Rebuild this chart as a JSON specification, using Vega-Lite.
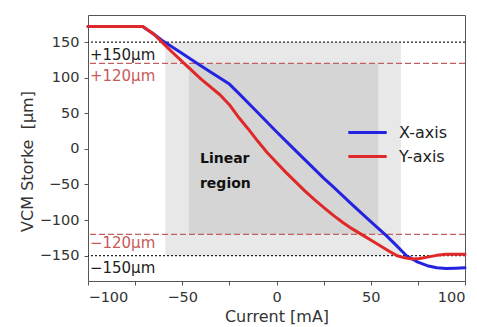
{
  "$schema": "https://vega.github.io/schema/vega-lite/v6.json",
  "width": 377,
  "height": 266,
  "autosize": "none",
  "padding": {"left": 88, "top": 15, "right": 12, "bottom": 46},
  "background": "white",
  "config": {
    "font": "DejaVu Sans",
    "view": {"stroke": "#555", "strokeWidth": 1},
    "axis": {
      "grid": false,
      "domain": false,
      "tickColor": "#555",
      "tickSize": 4,
      "labelFontSize": 14.5,
      "labelColor": "#333",
      "titleFontSize": 16,
      "titleFontWeight": "normal",
      "titleColor": "#333"
    },
    "axisX": {"labelPadding": 5, "titlePadding": 5},
    "axisY": {"labelPadding": 5, "titlePadding": 4, "titleY": 146}
  },
  "datasets": {
    "outerRegion": [{"x1": -59, "x2": 66, "y1": -150, "y2": 150}],
    "linearRegion": [{"x1": -46.5, "x2": 54, "y1": -120, "y2": 120}],
    "limits150": [{"y": 150}, {"y": -150}],
    "limits120": [{"y": 120}, {"y": -120}],
    "labels150": [
      {"x": -99, "y": 132, "label": "+150μm"},
      {"x": -99, "y": -167.5, "label": "−150μm"}
    ],
    "labels120": [
      {"x": -99, "y": 102.5, "label": "+120μm"},
      {"x": -99, "y": -132, "label": "−120μm"}
    ],
    "regionText": [
      {"x": -40.6, "y": -19.5, "label": "Linear"},
      {"x": -40.6, "y": -54.5, "label": "region"}
    ],
    "stroke": [
      {"axis": "X-axis", "current": -100, "stroke": 172},
      {"axis": "X-axis", "current": -90, "stroke": 172},
      {"axis": "X-axis", "current": -80, "stroke": 172},
      {"axis": "X-axis", "current": -71, "stroke": 172},
      {"axis": "X-axis", "current": -65, "stroke": 161},
      {"axis": "X-axis", "current": -60, "stroke": 151},
      {"axis": "X-axis", "current": -50, "stroke": 134},
      {"axis": "X-axis", "current": -42, "stroke": 120},
      {"axis": "X-axis", "current": -35, "stroke": 108},
      {"axis": "X-axis", "current": -25, "stroke": 91},
      {"axis": "X-axis", "current": -20, "stroke": 78},
      {"axis": "X-axis", "current": -10, "stroke": 51},
      {"axis": "X-axis", "current": 0, "stroke": 24},
      {"axis": "X-axis", "current": 10, "stroke": -2},
      {"axis": "X-axis", "current": 20, "stroke": -28},
      {"axis": "X-axis", "current": 25, "stroke": -41},
      {"axis": "X-axis", "current": 30, "stroke": -53},
      {"axis": "X-axis", "current": 40, "stroke": -78},
      {"axis": "X-axis", "current": 50, "stroke": -102},
      {"axis": "X-axis", "current": 58, "stroke": -121},
      {"axis": "X-axis", "current": 63, "stroke": -134},
      {"axis": "X-axis", "current": 69, "stroke": -150},
      {"axis": "X-axis", "current": 75, "stroke": -159},
      {"axis": "X-axis", "current": 80, "stroke": -164},
      {"axis": "X-axis", "current": 85, "stroke": -167},
      {"axis": "X-axis", "current": 90, "stroke": -168},
      {"axis": "X-axis", "current": 95, "stroke": -167.5},
      {"axis": "X-axis", "current": 100, "stroke": -167},
      {"axis": "Y-axis", "current": -100, "stroke": 172},
      {"axis": "Y-axis", "current": -90, "stroke": 172},
      {"axis": "Y-axis", "current": -80, "stroke": 172},
      {"axis": "Y-axis", "current": -71, "stroke": 172},
      {"axis": "Y-axis", "current": -65, "stroke": 161},
      {"axis": "Y-axis", "current": -62, "stroke": 153},
      {"axis": "Y-axis", "current": -55, "stroke": 135},
      {"axis": "Y-axis", "current": -49, "stroke": 120},
      {"axis": "Y-axis", "current": -40, "stroke": 98},
      {"axis": "Y-axis", "current": -30, "stroke": 76},
      {"axis": "Y-axis", "current": -25, "stroke": 62},
      {"axis": "Y-axis", "current": -20, "stroke": 44},
      {"axis": "Y-axis", "current": -15, "stroke": 28},
      {"axis": "Y-axis", "current": -10, "stroke": 11},
      {"axis": "Y-axis", "current": -5, "stroke": -5},
      {"axis": "Y-axis", "current": 0, "stroke": -19},
      {"axis": "Y-axis", "current": 5, "stroke": -33},
      {"axis": "Y-axis", "current": 10, "stroke": -46},
      {"axis": "Y-axis", "current": 15, "stroke": -59},
      {"axis": "Y-axis", "current": 20, "stroke": -71},
      {"axis": "Y-axis", "current": 25, "stroke": -82},
      {"axis": "Y-axis", "current": 30, "stroke": -93},
      {"axis": "Y-axis", "current": 35, "stroke": -103},
      {"axis": "Y-axis", "current": 40, "stroke": -112},
      {"axis": "Y-axis", "current": 45, "stroke": -120},
      {"axis": "Y-axis", "current": 50, "stroke": -128},
      {"axis": "Y-axis", "current": 55, "stroke": -136},
      {"axis": "Y-axis", "current": 60, "stroke": -144},
      {"axis": "Y-axis", "current": 64, "stroke": -150},
      {"axis": "Y-axis", "current": 68, "stroke": -153},
      {"axis": "Y-axis", "current": 72, "stroke": -154.5},
      {"axis": "Y-axis", "current": 76, "stroke": -154},
      {"axis": "Y-axis", "current": 80, "stroke": -152},
      {"axis": "Y-axis", "current": 85, "stroke": -149.5},
      {"axis": "Y-axis", "current": 90, "stroke": -148},
      {"axis": "Y-axis", "current": 95, "stroke": -148},
      {"axis": "Y-axis", "current": 100, "stroke": -148}
    ]
  },
  "layer": [
    {
      "data": {"name": "outerRegion"},
      "mark": {"type": "rect", "color": "#e8e8e8"},
      "encoding": {
        "x": {"field": "x1", "type": "quantitative", "title": "Current [mA]",
              "scale": {"domain": [-100, 100], "nice": false, "zero": false},
              "axis": {"values": [-100, -75, -50, -25, 0, 25, 50, 75, 100]}},
        "x2": {"field": "x2"},
        "y": {"field": "y1", "type": "quantitative", "title": "VCM Storke\u00a0 [μm]",
              "scale": {"domain": [-185.5, 188], "nice": false, "zero": false},
              "axis": {"values": [-150, -100, -50, 0, 50, 100, 150]}},
        "y2": {"field": "y2"}
      }
    },
    {
      "data": {"name": "linearRegion"},
      "mark": {"type": "rect", "color": "#d5d5d5"},
      "encoding": {
        "x": {"field": "x1", "type": "quantitative", "title": "Current [mA]"},
        "x2": {"field": "x2"},
        "y": {"field": "y1", "type": "quantitative", "title": "VCM Storke\u00a0 [μm]"},
        "y2": {"field": "y2"}
      }
    },
    {
      "data": {"name": "limits150"},
      "mark": {"type": "rule", "color": "#222", "strokeWidth": 1.2, "strokeDash": [2, 2]},
      "encoding": {
        "y": {"field": "y", "type": "quantitative", "title": "VCM Storke\u00a0 [μm]"}
      }
    },
    {
      "data": {"name": "limits120"},
      "mark": {"type": "rule", "color": "#c06060", "strokeWidth": 1.2, "strokeDash": [6, 3]},
      "encoding": {
        "y": {"field": "y", "type": "quantitative", "title": "VCM Storke\u00a0 [μm]"}
      }
    },
    {
      "data": {"name": "labels150"},
      "mark": {"type": "text", "align": "left", "baseline": "middle", "fontSize": 15, "color": "#222"},
      "encoding": {
        "x": {"field": "x", "type": "quantitative", "title": "Current [mA]"},
        "y": {"field": "y", "type": "quantitative", "title": "VCM Storke\u00a0 [μm]"},
        "text": {"field": "label"}
      }
    },
    {
      "data": {"name": "labels120"},
      "mark": {"type": "text", "align": "left", "baseline": "middle", "fontSize": 15, "color": "#c85a5a"},
      "encoding": {
        "x": {"field": "x", "type": "quantitative", "title": "Current [mA]"},
        "y": {"field": "y", "type": "quantitative", "title": "VCM Storke\u00a0 [μm]"},
        "text": {"field": "label"}
      }
    },
    {
      "data": {"name": "regionText"},
      "mark": {"type": "text", "align": "left", "baseline": "alphabetic", "fontSize": 14, "fontWeight": "bold", "color": "#111"},
      "encoding": {
        "x": {"field": "x", "type": "quantitative", "title": "Current [mA]"},
        "y": {"field": "y", "type": "quantitative", "title": "VCM Storke\u00a0 [μm]"},
        "text": {"field": "label"}
      }
    },
    {
      "data": {"name": "stroke"},
      "mark": {"type": "line", "strokeWidth": 3, "strokeCap": "round", "strokeJoin": "round"},
      "encoding": {
        "x": {"field": "current", "type": "quantitative", "title": "Current [mA]"},
        "y": {"field": "stroke", "type": "quantitative", "title": "VCM Storke\u00a0 [μm]"},
        "color": {"field": "axis", "type": "nominal",
                  "scale": {"domain": ["X-axis", "Y-axis"], "range": ["#2424e0", "#e02828"]},
                  "legend": {"orient": "none", "legendX": 266, "legendY": 104, "title": null,
                             "symbolType": "M-1.6,0H1.6", "symbolSize": 576, "symbolStrokeWidth": 3,
                             "labelFontSize": 16, "labelColor": "#222", "labelOffset": 18,
                             "rowPadding": 2, "padding": 0}}
      }
    }
  ]
}
